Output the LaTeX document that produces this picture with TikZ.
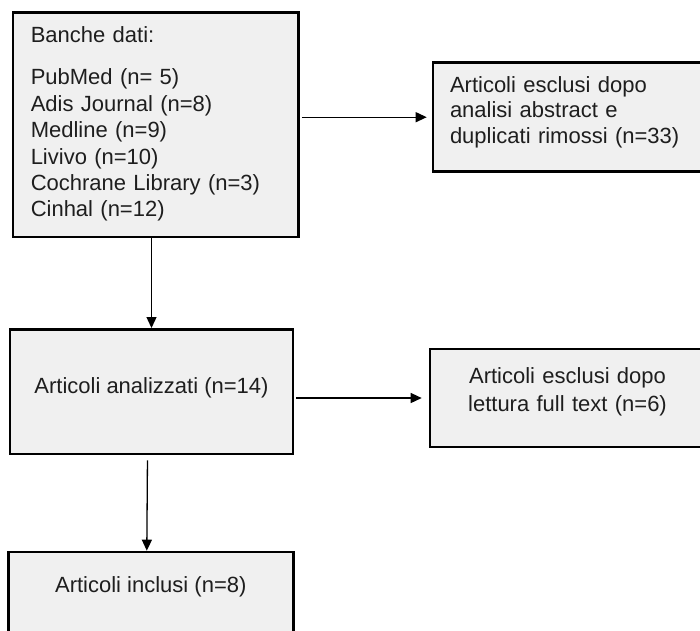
\documentclass[tikz,border=0pt]{standalone}
\usepackage{fontspec}
\setmainfont{Liberation Sans}
\usetikzlibrary{arrows.meta}
\definecolor{boxgray}{HTML}{F0F0F0}
\definecolor{inkgray}{HTML}{1E1E1E}

\begin{document}
\begin{tikzpicture}[
  x=1pt, y=-1pt,
  every node/.style={font=\fontsize{22}{26.4}\selectfont, text=inkgray},
  box/.style={draw, line width=2.6pt, fill=boxgray, inner ysep=0pt},
  listbox/.style={box, align=left},
  midbox/.style={box, align=center},
  flow/.style={-{Triangle[length=11pt,width=10pt]}, line width=1.3pt}]

\useasboundingbox (0,0) rectangle (700,630);
\clip (0,0) rectangle (700,630);

\node[listbox, inner xsep=17.7pt, text width=250pt, text height=30pt, text depth=194.5pt] (banche) at (155.75,124.75)
  {Banche dati:\\[16pt]
   PubMed (n= 5)\\
   Adis Journal (n=8)\\
   Medline (n=9)\\
   Livivo (n=10)\\
   Cochrane Library (n=3)\\
   Cinhal (n=12)};
\node[listbox, font=\fontsize{22}{25.5}\selectfont, inner xsep=17pt, text width=238pt, text height=29.5pt, text depth=79.5pt] (esclusi1) at (569,117.2)
  {Articoli esclusi dopo\\ analisi abstract e\\ duplicati rimossi (n=33)};
\node[midbox, minimum width=283pt, text height=63.7pt, text depth=61pt] (analizzati) at (151.5,391.65) {Articoli analizzati (n=14)};
\node[midbox, font=\fontsize{22}{28}\selectfont, inner xsep=10pt, text width=255pt, text height=34.3pt, text depth=64pt] (esclusi2) at (567.5,398)
  {Articoli esclusi dopo\\ lettura full text (n=6)};
\node[midbox, minimum width=285pt, text height=40pt, text depth=98pt] (inclusi) at (150.8,621) {Articoli inclusi (n=8)};

\draw[flow, shorten <=2pt, shorten >=5pt] (banche.east |- esclusi1.west) -- (esclusi1.west);
\draw[flow] (banche.south -| analizzati.north) -- (analizzati.north);
\draw[flow, shorten <=2pt, shorten >=7pt] (analizzati.east |- esclusi2.west) -- (esclusi2.west);
\draw[flow, shorten <=5pt] ([xshift=-4pt]analizzati.south) -- ([xshift=-4pt]inclusi.north);
\end{tikzpicture}
\end{document}
